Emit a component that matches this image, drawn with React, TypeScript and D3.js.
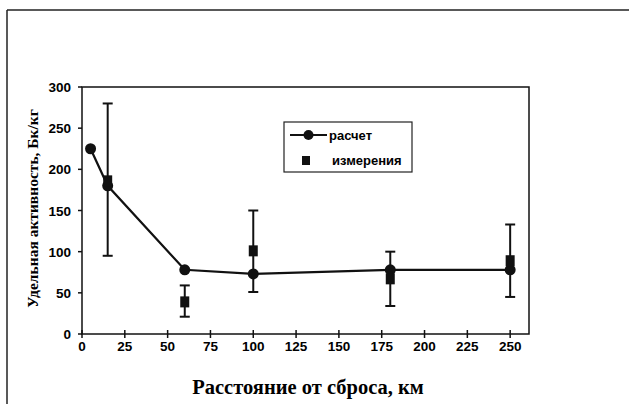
import React from 'react';
import * as d3 from 'd3';

// расчет (calculated)
const calcX = [5, 15, 60, 100, 180, 250];
const calcY = [225, 180, 78, 73, 78, 78];

// измерения (measured) with error bars
const measX = [15, 60, 100, 180, 250];
const measY = [186, 39, 101, 67, 89];
const measLo = [95, 21, 51, 34, 45];
const measHi = [280, 59, 150, 100, 133];

const xTicks = [0, 25, 50, 75, 100, 125, 150, 175, 200, 225, 250];
const yTicks = [0, 50, 100, 150, 200, 250, 300];

const W = 629;
const H = 404;
const left = 82, right = 529, top = 87, bottom = 334;

export default function App() {
  const x = d3.scaleLinear().domain([0, 261]).range([left, right]);
  const y = d3.scaleLinear().domain([0, 300]).range([bottom, top]);

  const line = d3
    .line<number>()
    .x((d, i) => x(calcX[i]))
    .y(d => y(d));

  const tickFont = { fontFamily: 'Liberation Sans, Arial, sans-serif', fontWeight: 700, fontSize: 13.5 };
  const legFont = { fontFamily: 'Liberation Sans, Arial, sans-serif', fontWeight: 700, fontSize: 13 };

  return (
    <svg width={W} height={H} style={{ position: 'absolute', left: 0, top: 0, background: '#fff' }}>
      {/* outer frame */}
      <line x1={7} y1={10} x2={W} y2={10} stroke="#222" strokeWidth={1.5} />
      <line x1={7} y1={10} x2={7} y2={H} stroke="#222" strokeWidth={1.5} />

      {/* plot area border */}
      <rect x={left} y={top} width={right - left} height={bottom - top} fill="none" stroke="#111" strokeWidth={1.5} />

      {/* y axis */}
      {yTicks.map(t => (
        <g key={'y' + t}>
          <line x1={left - 4} x2={left} y1={y(t)} y2={y(t)} stroke="#111" strokeWidth={1.5} />
          <text x={left - 11} y={y(t) + 5} textAnchor="end" style={tickFont}>{t}</text>
        </g>
      ))}

      {/* x axis */}
      {xTicks.map(t => (
        <g key={'x' + t}>
          <line x1={x(t)} x2={x(t)} y1={bottom - 4} y2={bottom + 4} stroke="#111" strokeWidth={1.5} />
          <text x={x(t)} y={bottom + 17} textAnchor="middle" style={tickFont}>{t}</text>
        </g>
      ))}

      {/* error bars */}
      {measX.map((mx, i) => (
        <g key={'e' + i} stroke="#111" strokeWidth={2}>
          <line x1={x(mx)} x2={x(mx)} y1={y(measLo[i])} y2={y(measHi[i])} />
          <line x1={x(mx) - 5} x2={x(mx) + 5} y1={y(measLo[i])} y2={y(measLo[i])} />
          <line x1={x(mx) - 5} x2={x(mx) + 5} y1={y(measHi[i])} y2={y(measHi[i])} />
        </g>
      ))}

      {/* calc line */}
      <path d={line(calcY) || ''} fill="none" stroke="#111" strokeWidth={2.2} />
      {calcY.map((v, i) => (
        <circle key={'c' + i} cx={x(calcX[i])} cy={y(v)} r={5.5} fill="#111" />
      ))}

      {/* measured squares */}
      {measY.map((v, i) => (
        <rect key={'m' + i} x={x(measX[i]) - 4.5} y={y(v) - 5.5} width={9} height={11} fill="#111" />
      ))}

      {/* legend */}
      <rect x={284} y={122} width={128} height={50} fill="#fff" stroke="#222" strokeWidth={1.2} />
      <line x1={290} x2={327} y1={135} y2={135} stroke="#111" strokeWidth={2.2} />
      <circle cx={308.5} cy={135} r={5} fill="#111" />
      <text x={329} y={140} style={legFont}>расчет</text>
      <rect x={302} y={156} width={8} height={9} fill="#111" />
      <text x={332} y={165} style={legFont}>измерения</text>

      {/* axis titles */}
      <text
        transform={`translate(38,${(top + bottom) / 2 - 2}) rotate(-90)`}
        textAnchor="middle"
        style={{ fontFamily: 'Liberation Serif, Times New Roman, serif', fontWeight: 700, fontSize: 15.5 }}
      >
        Удельная активность, Бк/кг
      </text>
      <text
        x={308}
        y={394}
        textAnchor="middle"
        style={{ fontFamily: 'Liberation Serif, Times New Roman, serif', fontWeight: 700, fontSize: 20.5 }}
      >
        Расстояние от сброса, км
      </text>
    </svg>
  );
}
